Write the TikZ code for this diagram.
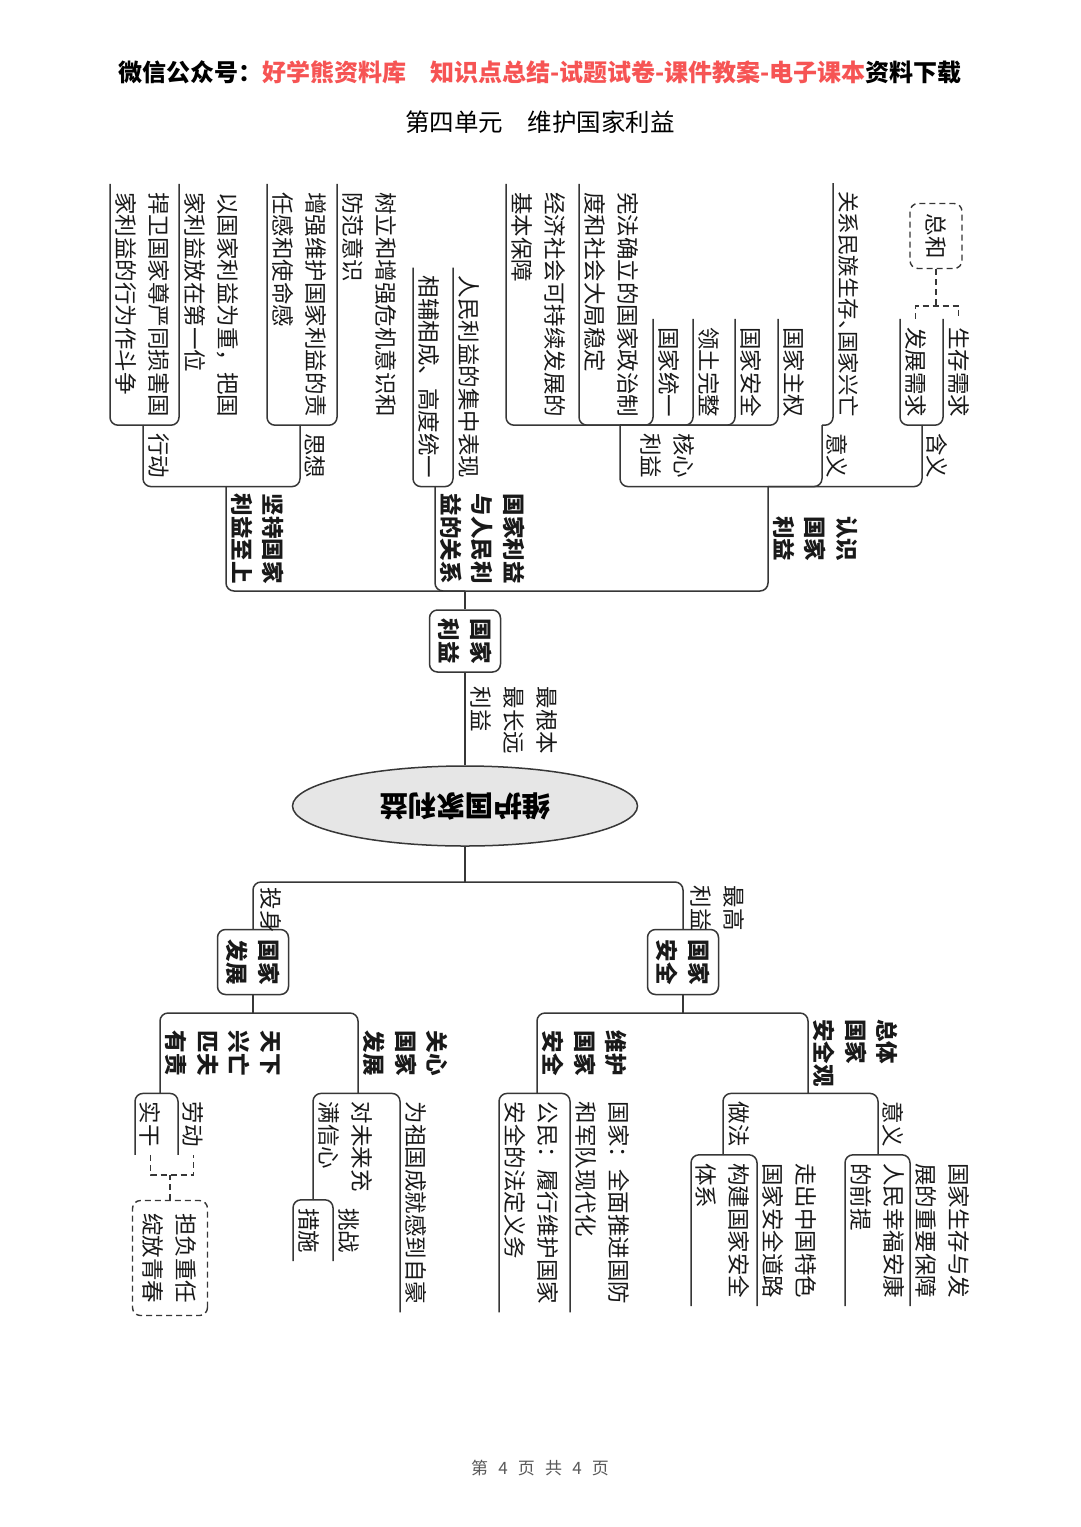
\documentclass[tikz,border=0pt]{standalone}
\usepackage{fontspec}
\setmainfont{Noto Sans CJK SC}
\usepackage{graphicx}
\usepackage{xcolor}
\usepackage{tikz}
\usetikzlibrary{shapes.geometric, calc}

\definecolor{linegray}{RGB}{55,55,55}
\definecolor{adred}{RGB}{246,84,84}
\definecolor{ovalgray}{RGB}{230,230,230}

\tikzset{
  txt/.style={rotate=-90, text=black!90, font=\fontsize{22.5}{33}\selectfont,
    align=left, inner xsep=8pt, inner ysep=5pt},
  hd/.style={txt, font=\fontsize{22.5}{31.5}\selectfont\bfseries, align=center, inner xsep=6pt},
  lvone/.style={hd, minimum width=104pt},
  lvtwo/.style={hd, minimum width=80pt},
  box/.style={hd, draw=linegray, line width=1.5pt, rounded corners=8pt, inner sep=0pt},
  sumbox/.style={txt, draw=linegray, line width=1.4pt, dash pattern=on 6pt off 4pt,
    rounded corners=8pt, inner sep=0pt},
  elabel/.style={txt, inner xsep=2pt},
  oval/.style={ellipse, draw=linegray, fill=ovalgray, line width=1.5pt,
    minimum width=345pt, minimum height=80pt, font=\fontsize{28.5}{28}\selectfont\bfseries},
  conn/.style={draw=linegray, line width=1.5pt, rounded corners=8pt},
  tree/.style={conn, to path={-| (\tikztotarget)}},
  dconn/.style={draw=linegray, line width=1.4pt, dash pattern=on 6pt off 4pt},
}

\begin{document}
\begin{tikzpicture}[x=1pt, y=-1pt]
  \path[use as bounding box, fill=white] (0,0) rectangle (1080,1527);

  \node (hdr) at (540,72) {\fontsize{24}{24}\selectfont\bfseries 微信公众号：\textcolor{adred}{好学熊资料库\quad 知识点总结-试题试卷-课件教案-电子课本}资料下载};
  \node (ttl) at (540,122) {\fontsize{24.5}{24}\selectfont 第四单元\quad 维护国家利益};
  \node (ftr) at (540,1468) {\fontsize{17}{17}\selectfont\color{black!65} 第\hspace{.6em}4\hspace{.6em}页\hspace{.6em}共\hspace{.6em}4\hspace{.6em}页};

  % centre
  \node[oval] (wh) at (465,806) {\rotatebox{180}{维护国家利益}};
  \node[box, minimum width=62pt, minimum height=71pt] (gjly) at (465,641) {国家\\利益};
  \coordinate (upj) at (465,591);

  % upper half
  \node[lvone, anchor=south east] (jc) at (226,591) {坚持国家\\利益至上};
  \node[lvone, anchor=south east] (gx) at (435,591) {国家利益\\与人民利\\益的关系};
  \node[lvone, anchor=south east] (rs) at (768,591) {认识\\国家\\利益};

  \node[txt, anchor=south east] (xd) at (jc.south west -| 143,0) {行动};
  \node[txt, anchor=south east] (sx) at (jc.south west -| 300,0) {思想};
  \node[txt, anchor=south east] (rmly) at (gx.south west -| 453,0) {人民利益的集中表现};
  \node[txt, anchor=south east] (xfxc) at (gx.south west -| 413,0) {相辅相成、高度统一};
  \node[txt, anchor=south east, inner ysep=20pt] (hx) at (rs.south west -| 620,0) {核心\\利益};
  \node[txt, anchor=south east] (yy) at (rs.south west -| 822,0) {意义};
  \node[txt, anchor=south east] (hy) at (rs.south west -| 922,0) {含义};

  \node[txt, anchor=south east] (yg) at (xd.south west -| 179,0) {以国家利益为重，把国\\家利益放在第一位};
  \node[txt, anchor=south east] (hw) at (xd.south west -| 110,0) {捍卫国家尊严同损害国\\家利益的行为作斗争};
  \node[txt, anchor=south east] (sl) at (sx.south west -| 337,0) {树立和增强危机意识和\\防范意识};
  \node[txt, anchor=south east] (zq) at (sx.south west -| 267,0) {增强维护国家利益的责\\任感和使命感};
  \node[txt, anchor=south east] (gjzq) at (hx.south west -| 778,0) {国家主权};
  \node[txt, anchor=south east] (gjaqs) at (hx.south west -| 735,0) {国家安全};
  \node[txt, anchor=south east] (ltwz) at (hx.south west -| 693,0) {领土完整};
  \node[txt, anchor=south east] (gjty) at (hx.south west -| 653,0) {国家统一};
  \node[txt, anchor=south east] (xfql) at (hx.south west -| 579,0) {宪法确立的国家政治制\\度和社会大局稳定};
  \node[txt, anchor=south east] (jjsh) at (hx.south west -| 506,0) {经济社会可持续发展的\\基本保障};
  \node[txt, anchor=south east, font=\fontsize{21.5}{33}\selectfont] (gxmz) at (yy.south west -| 833,0) {关系民族生存、\kern-.5em国家兴亡};
  \node[txt, anchor=south east] (sczq) at (hy.south west -| 943,0) {生存需求};
  \node[txt, anchor=south east] (fzxq) at (hy.south west -| 900,0) {发展需求};
  \node[sumbox, minimum width=65pt, minimum height=52pt] (zh) at (936,236) {总和};

  \draw[conn] (gjly.west) -- (upj);
  \path (upj) edge[tree] (jc.south west) edge[tree] (gx.south west) edge[tree] (rs.south west)
        (jc.south west) edge[tree] (xd.south west) edge[tree] (sx.south west)
        (xd.south west) edge[tree] (yg.south west) edge[tree] (hw.south west)
        (sx.south west) edge[tree] (sl.south west) edge[tree] (zq.south west)
        (gx.south west) edge[tree] (rmly.south west) edge[tree] (xfxc.south west)
        (rs.south west) edge[tree] (hx.south west) edge[tree] (yy.south west) edge[tree] (hy.south west)
        (hx.south west) edge[tree] (gjzq.south west) edge[tree] (gjaqs.south west)
                        edge[tree] (ltwz.south west) edge[tree] (gjty.south west)
                        edge[tree] (xfql.south west) edge[tree] (jjsh.south west)
        (yy.south west) edge[tree] (gxmz.south west)
        (hy.south west) edge[tree] (sczq.south west) edge[tree] (fzxq.south west);

  \path (fzxq.west) ++(0,-13) coordinate (hyj);
  \draw[dconn] (fzxq.west) -- (hyj) -| (sczq.west);
  \draw[dconn] (zh.east) -- (zh.east |- hyj);

  \draw[conn] (gjly.east) -- node[elabel, pos=.12, anchor=south west] (zgb) {最根本\\最长远\\利益} (wh.north);

  % lower half
  \node[box, minimum width=65pt, minimum height=71pt] (gjfz) at (253,962) {国家\\发展};
  \node[box, minimum width=65pt, minimum height=71pt] (gjaq) at (683,962) {国家\\安全};
  \coordinate (dnj) at (465,882);
  \coordinate (fzj) at (253,1013);
  \coordinate (aqj) at (683,1013);

  \node[lvtwo, anchor=south west] (txxw) at (160,1013) {天下\\兴亡\\匹夫\\有责};
  \node[lvtwo, anchor=south west] (gxfz) at (358,1013) {关心\\国家\\发展};
  \node[lvtwo, anchor=south west] (whaq) at (537,1013) {维护\\国家\\安全};
  \node[lvtwo, anchor=south west, align=left] (ztaq) at (808,1013) {总体\\国家\\安全观};

  \node[txt, anchor=south west] (ld) at (txxw.south east -| 178,0) {劳动};
  \node[txt, anchor=south west] (sg) at (txxw.south east -| 135,0) {实干};
  \node[txt, anchor=south west] (zhzh) at (gxfz.south east -| 400,0) {为祖国成就感到自豪};
  \node[txt, anchor=south west] (dwl) at (gxfz.south east -| 313,0) {对未来充\\满信心};
  \node[txt, anchor=south west] (tz) at (dwl.south east -| 333,0) {挑战};
  \node[txt, anchor=south west] (cs) at (dwl.south east -| 293,0) {措施};
  \node[txt, anchor=south west] (gjqm) at (whaq.south east -| 570,0) {国家：全面推进国防\\和军队现代化};
  \node[txt, anchor=south west] (gm) at (whaq.south east -| 499,0) {公民：履行维护国家\\安全的法定义务};
  \node[txt, anchor=south west] (yyx) at (ztaq.south east -| 878,0) {意义};
  \node[txt, anchor=south west] (zf) at (ztaq.south east -| 723,0) {做法};
  \node[txt, anchor=south west] (scfz) at (yyx.south east -| 910,0) {国家生存与发\\展的重要保障};
  \node[txt, anchor=south west] (rmxf) at (yyx.south east -| 845,0) {人民幸福安康\\的前提};
  \node[txt, anchor=south west] (zczg) at (zf.south east -| 757,0) {走出中国特色\\国家安全道路};
  \node[txt, anchor=south west] (gjtx) at (zf.south east -| 691,0) {构建国家安全\\体系};
  \node[sumbox, minimum width=115pt, minimum height=75pt] (dfzr) at (170,1258) {担负重任\\绽放青春};

  \draw[conn] (wh.south) -- (dnj);
  \draw[conn] (dnj) -| node[elabel, pos=.53, anchor=south west, inner ysep=7pt] (ts) {投身} (gjfz.west);
  \draw[conn] (dnj) -| node[elabel, pos=.51, anchor=south west, inner ysep=7pt] (zgly) {最高\\利益} (gjaq.west);
  \draw[conn] (gjfz.east) -- (fzj);
  \draw[conn] (gjaq.east) -- (aqj);
  \path (fzj) edge[tree] (txxw.south east) edge[tree] (gxfz.south east)
        (aqj) edge[tree] (whaq.south east) edge[tree] (ztaq.south east)
        (txxw.south east) edge[tree] (ld.south east) edge[tree] (sg.south east)
        (gxfz.south east) edge[tree] (zhzh.south east) edge[tree] (dwl.south east)
        (dwl.south east) edge[tree] (tz.south east) edge[tree] (cs.south east)
        (whaq.south east) edge[tree] (gjqm.south east) edge[tree] (gm.south east)
        (ztaq.south east) edge[tree] (yyx.south east) edge[tree] (zf.south east)
        (yyx.south east) edge[tree] (scfz.south east) edge[tree] (rmxf.south east)
        (zf.south east) edge[tree] (zczg.south east) edge[tree] (gjtx.south east);

  \path (sg.east) ++(0,20) coordinate (sgj);
  \draw[dconn] (sg.east) -- (sgj) -| (ld.east);
  \draw[dconn] (dfzr.west) -- (dfzr.west |- sgj);
\end{tikzpicture}
\end{document}
